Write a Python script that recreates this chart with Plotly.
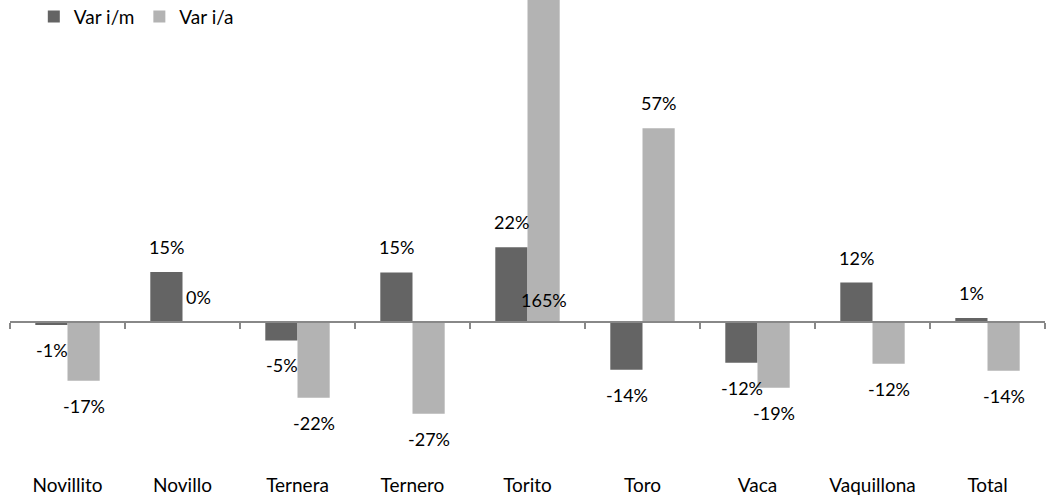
import plotly.graph_objects as go

categories = ["Novillito", "Novillo", "Ternera", "Ternero", "Torito",
              "Toro", "Vaca", "Vaquillona", "Total"]
var_im = [-0.9, 14.7, -5.4, 14.6, 22.0, -14.0, -12.0, 11.6, 1.2]
var_ia = [-17.3, 0.0, -22.3, -27.0, 165.0, 57.0, -19.3, -12.3, -14.3]

colors = {
    "im": "#646464",
    "ia": "#b3b3b3",
    "axis": "#888888",
    "text": "#000000",
}

y_min, y_max = -44.1, 94.7
zero_pos = (0 - y_min) / (y_max - y_min)
font = "Lato, Open Sans, sans-serif"

fig = go.Figure()

fig.add_trace(go.Bar(x=categories, y=var_im, name="Var i/m",
                     marker_color=colors["im"], marker_line_width=0))
fig.add_trace(go.Bar(x=categories, y=var_ia, name="Var i/a",
                     marker_color=colors["ia"], marker_line_width=0))

# invisible trace so the zero-line axis has the same categories
fig.add_trace(go.Scatter(x=categories, y=[0] * len(categories), xaxis="x2",
                         mode="markers", marker_opacity=0, showlegend=False,
                         hoverinfo="skip"))

# data labels
for series, shift in [(var_im, -16), (var_ia, 16)]:
    for cat, v in zip(categories, series):
        if v > y_max:
            y, ys = 0, 22
        else:
            y, ys = v, (25 if v >= 0 else -25)
        fig.add_annotation(x=cat, y=y, text=f"{round(v):.0f}%", showarrow=False,
                           xshift=shift, yshift=ys,
                           font=dict(size=18, color=colors["text"], family=font))

fig.update_layout(
    width=1047, height=498,
    margin=dict(l=10, r=2, t=0, b=26, autoexpand=False),
    plot_bgcolor="white", paper_bgcolor="white",
    font=dict(family=font, size=19, color=colors["text"]),
    barmode="group", bargap=0.44, bargroupgap=0,
    showlegend=True,
    legend=dict(orientation="h", x=0.023, y=1.005, xanchor="left", yanchor="top",
                font=dict(size=19), bgcolor="rgba(0,0,0,0)",
                tracegroupgap=0),
    xaxis=dict(showline=False, showgrid=False, ticks="", zeroline=False,
               range=[-0.5, 8.5], automargin=False),
    xaxis2=dict(overlaying="x", anchor="free", position=zero_pos, side="bottom",
                type="category", range=[-0.5, 8.5], showline=True,
                linecolor=colors["axis"], linewidth=2, ticks="outside",
                tickson="boundaries", ticklen=6, tickcolor=colors["axis"],
                tickwidth=2, showticklabels=False, showgrid=False,
                automargin=False),
    yaxis=dict(range=[y_min, y_max], visible=False, showgrid=False,
               zeroline=False, automargin=False),
)

fig.write_html("out.html", config={"displayModeBar": False},
               post_script="document.body.style.margin='0';")
